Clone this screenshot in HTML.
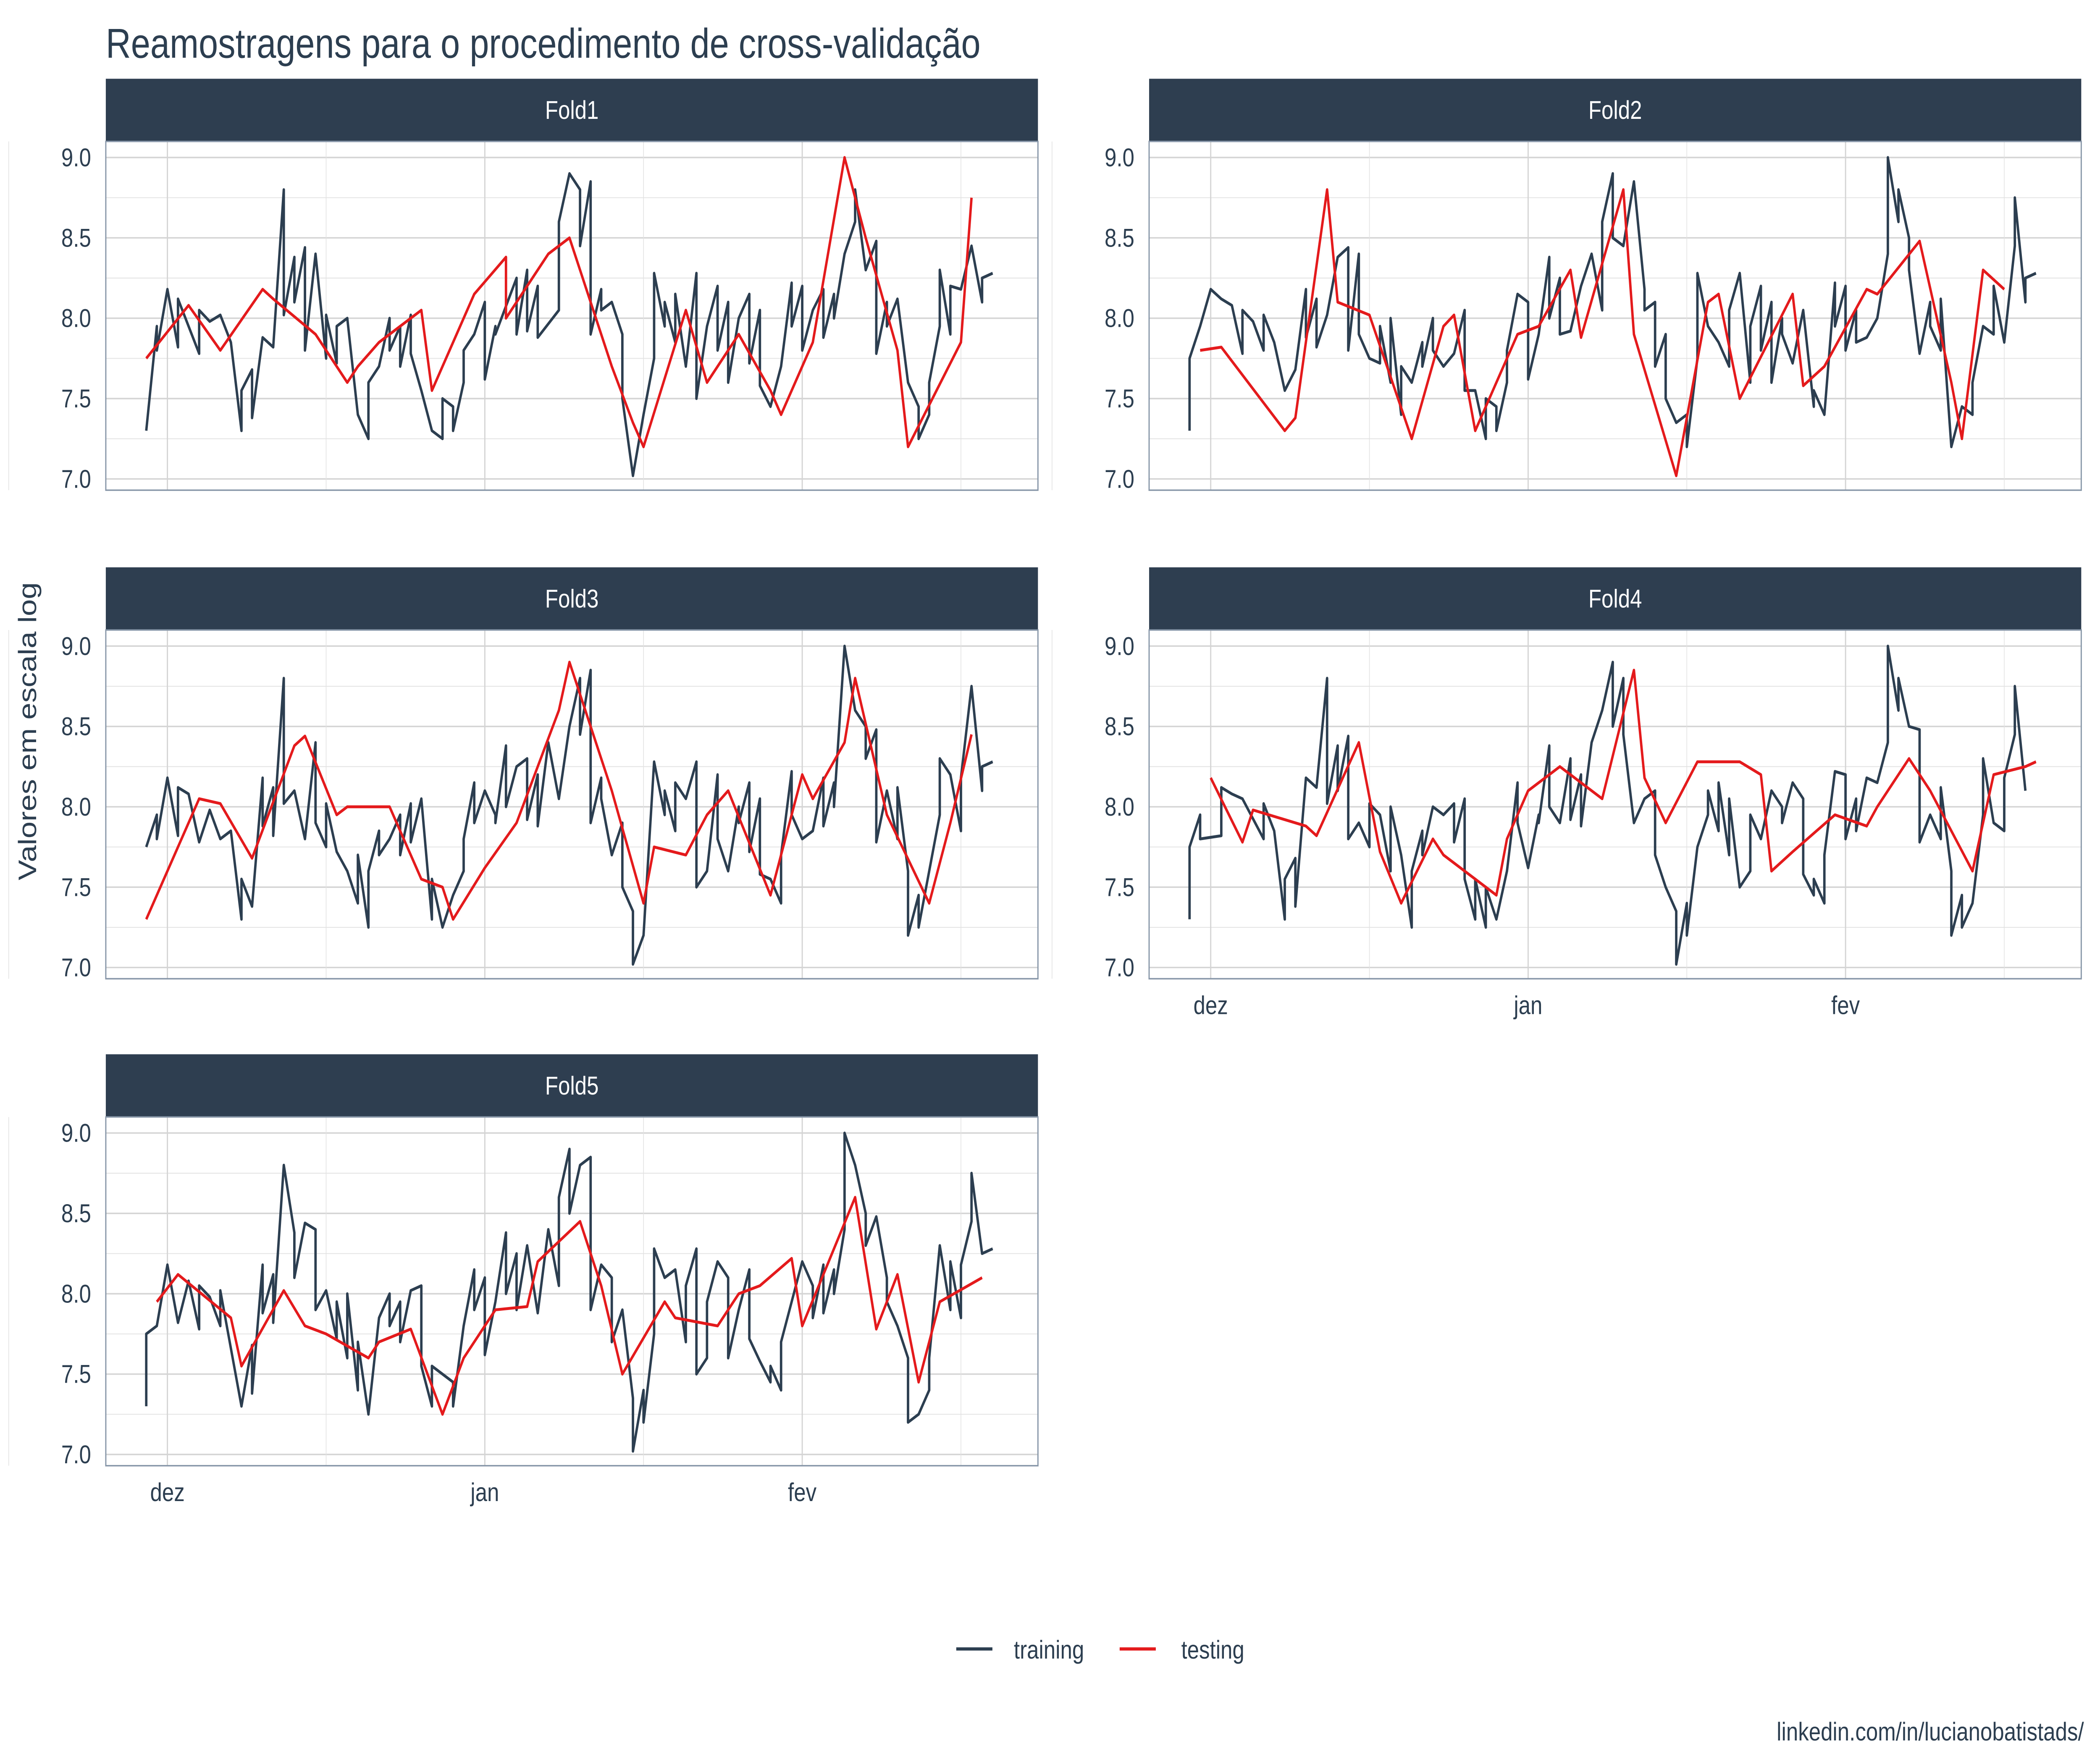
<!DOCTYPE html>
<html><head><meta charset="utf-8"><style>
html,body{margin:0;padding:0;background:#fff;overflow:hidden;width:100%;height:100%;}
svg{display:block;width:100vw;height:100vh;}
text{font-family:"Liberation Sans",sans-serif;fill:#2c3e50;}
</style></head><body>
<svg id="chart" xmlns="http://www.w3.org/2000/svg" viewBox="0 0 1568 1097.6" preserveAspectRatio="none">
<rect x="0" y="0" width="1568" height="1097.6" fill="#fff"/>
<text x="79" y="36" font-size="26">Reamostragens para o procedimento de cross-validação</text>
<text transform="translate(27,455) rotate(-90)" text-anchor="middle" font-size="19">Valores em escala log</text>
<g id="panels"></g>
<g>
<line x1="714" y1="1026" x2="741" y2="1026" stroke="#2c3e50" stroke-width="2"/>
<text x="757" y="1032" font-size="16">training</text>
<line x1="836" y1="1026" x2="863" y2="1026" stroke="#e41a1c" stroke-width="2"/>
<text x="882" y="1032" font-size="16">testing</text>
</g>
<text x="1556" y="1083" text-anchor="end" font-size="16">linkedin.com/in/lucianobatistads/</text>
</svg>
<script>
const days = [-2,-2,-1,-1,0,1,1,2,3,3,4,5,5,6,7,7,8,8,9,9,10,10,11,11,12,12,13,13,14,14,15,15,16,16,17,17,18,18,19,19,20,20,21,21,22,22,23,23,24,24,25,25,26,26,27,27,28,28,29,29,30,30,31,31,32,32,33,33,34,34,35,35,36,37,37,38,38,39,39,40,40,41,41,42,42,43,43,44,44,45,45,46,46,47,47,48,48,49,49,50,50,51,51,52,52,53,53,54,54,55,55,56,56,57,57,58,58,59,59,60,60,61,61,62,62,63,63,64,64,65,65,66,66,67,67,68,68,69,69,70,70,71,71,72,72,73,73,74,74,75,75,76,76,77,77,78];
const values = [7.30,7.75,7.95,7.80,8.18,7.82,8.12,8.08,7.78,8.05,7.98,7.80,8.02,7.85,7.30,7.55,7.68,7.38,8.18,7.88,8.12,7.82,8.80,8.02,8.38,8.10,8.44,7.80,8.40,7.90,7.75,8.02,7.72,7.95,7.60,8.00,7.40,7.70,7.25,7.60,7.85,7.70,8.00,7.80,7.95,7.70,8.02,7.78,8.05,7.55,7.30,7.55,7.25,7.50,7.45,7.30,7.60,7.80,8.15,7.90,8.10,7.62,7.95,7.90,8.38,8.00,8.25,7.90,8.30,7.92,8.20,7.88,8.40,8.05,8.60,8.90,8.50,8.80,8.45,8.85,7.90,8.18,8.05,8.10,7.70,7.90,7.50,7.35,7.02,7.40,7.20,7.75,8.28,7.95,8.10,7.85,8.15,7.70,8.05,8.28,7.50,7.60,7.95,8.20,7.80,8.10,7.60,8.00,7.90,8.15,7.72,8.05,7.58,7.45,7.55,7.40,7.70,8.22,7.95,8.20,7.80,8.05,7.85,8.18,7.88,8.15,8.00,8.40,9.00,8.60,8.80,8.50,8.30,8.48,7.78,8.10,7.95,7.80,8.12,7.60,7.20,7.45,7.25,7.40,7.60,7.95,8.30,7.90,8.20,7.85,8.18,8.45,8.75,8.10,8.25,8.28];
const foldOf = "3152425143413525321414253235415243134125153424251321534354124325114325521433125424531451231345252314213453451245231125435312424315314254315215234523412315441532342151235";
const foldNames = ["Fold1","Fold2","Fold3","Fold4","Fold5"];
const yTicks = [7.0,7.5,8.0,8.5,9.0];
const yTickLabels = ["7.0","7.5","8.0","8.5","9.0"];
const xTickDays = [0,30,60];
const xTickLabels = ["dez","jan","fev"];

const NS="http://www.w3.org/2000/svg";
const root=document.getElementById('panels');
function mk(tag,attrs,parent){const e=document.createElementNS(NS,tag);for(const k in attrs)e.setAttribute(k,attrs[k]);parent.appendChild(e);return e;}
const layout=[{x:79,y:49,showX:false},{x:858,y:49,showX:false},{x:79,y:353,showX:false},{x:858,y:353,showX:true},{x:79,y:656,showX:true}];
const PW=696, SH=39, PH=217;
layout.forEach((L,i)=>{
  const fold=String(i+1);
  const g=mk('g',{},root);
  
  
  const top=L.y+SH;
  const yS=v=>top+(9.1-v)*100;
  const xS=d=>L.x+46+d*7.9;
  const s=mk('rect',{x:L.x,y:L.y,width:PW,height:SH,fill:'#2e3e50'},g);
  
  
  const st=mk('text',{x:L.x+PW/2,y:L.y+25,'text-anchor':'middle','font-size':16,style:'fill:#fff'},g);
  st.textContent=foldNames[i];
  
  
  for(let k=0;k<yTicks.length;k++){
    const v=yTicks[k];
    mk('line',{x1:L.x,x2:L.x+PW,y1:yS(v),y2:yS(v),stroke:'#d4d4d4','stroke-width':0.9},g);
    if(k<yTicks.length-1){const m=(v+yTicks[k+1])/2;mk('line',{x1:L.x,x2:L.x+PW,y1:yS(m),y2:yS(m),stroke:'#e2e2e2','stroke-width':0.5},g);}
    const t=mk('text',{x:L.x-11,y:yS(v)+5.5,'text-anchor':'end','font-size':16},g);
    t.textContent=yTickLabels[k];
    
    
  }
  for(let k=0;k<xTickDays.length;k++){
    const d=xTickDays[k];
    mk('line',{x1:xS(d),x2:xS(d),y1:top,y2:top+PH,stroke:'#d4d4d4','stroke-width':0.9},g);
    const md=d+15;mk('line',{x1:xS(md),x2:xS(md),y1:top,y2:top+PH,stroke:'#e2e2e2','stroke-width':0.5},g);
    if(L.showX){
      const t=mk('text',{x:xS(d),y:top+PH+22,'text-anchor':'middle','font-size':16},g);
      t.textContent=xTickLabels[k];
      
      
    }
  }
  mk('line',{x1:xS(-15),x2:xS(-15),y1:top,y2:top+PH,stroke:'#e2e2e2','stroke-width':0.5},g);
  const b=mk('rect',{x:L.x,y:top,width:PW,height:PH,fill:'none',stroke:'#8796a8','stroke-width':0.9},g);
  
  
  let tr=[],te=[];
  for(let j=0;j<values.length;j++){
    const f=foldOf[j%foldOf.length];
    const p=xS(days[j]).toFixed(2)+','+yS(values[j]).toFixed(2);
    if(f===fold)te.push(p);else tr.push(p);
  }
  const l1=mk('polyline',{points:tr.join(' '),fill:'none',stroke:'#2c3e50','stroke-width':1.8,'stroke-linejoin':'round'},g);
  
  
  const l2=mk('polyline',{points:te.join(' '),fill:'none',stroke:'#e41a1c','stroke-width':1.8,'stroke-linejoin':'round'},g);
  
  
});
</script>
</body></html>
